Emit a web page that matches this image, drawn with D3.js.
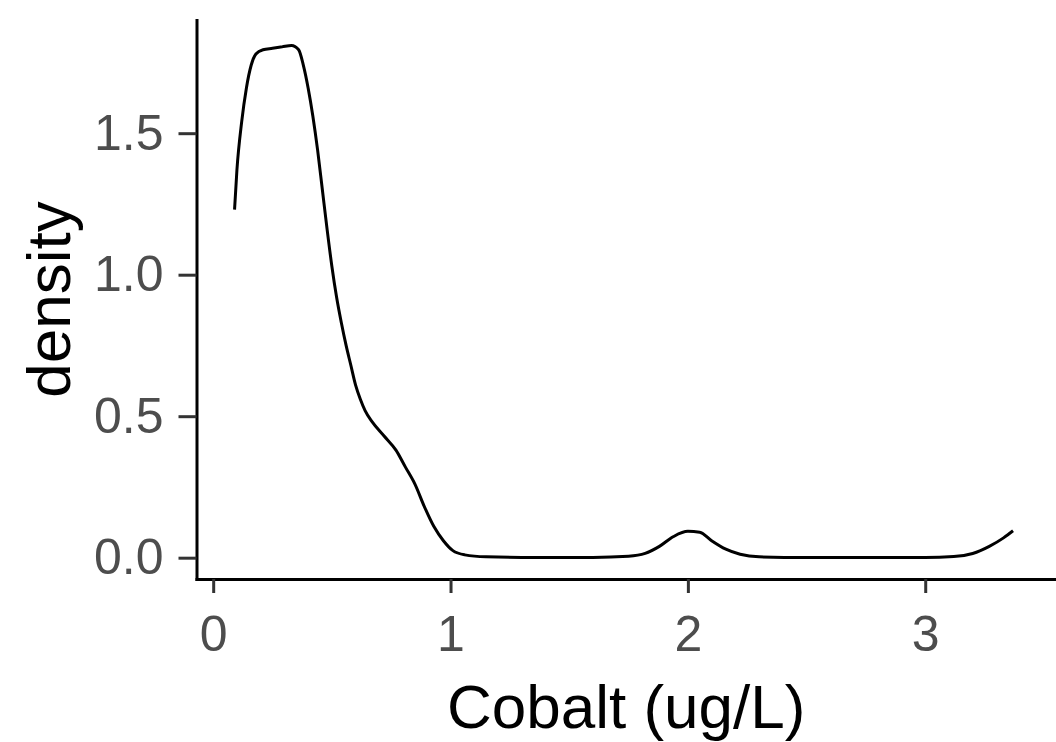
<!DOCTYPE html>
<html>
<head>
<meta charset="utf-8">
<script src="https://cdn.jsdelivr.net/npm/d3@7/dist/d3.min.js"></script>
<style>
  html, body { margin: 0; padding: 0; background: #ffffff; }
  svg { display: block; }
  text { font-family: "Liberation Sans", Arial, Helvetica, sans-serif; }
</style>
</head>
<body>
<script>
// Density estimate of Cobalt (ug/L)
const cobaltX = [0.09, 0.10, 0.12, 0.14, 0.16, 0.18, 0.21, 0.25, 0.29, 0.33, 0.36, 0.38, 0.40, 0.42,
  0.44, 0.46, 0.48, 0.50, 0.52, 0.54, 0.56, 0.58, 0.60, 0.62, 0.64, 0.67, 0.72, 0.77, 0.81, 0.85,
  0.89, 0.93, 0.97, 1.01, 1.06, 1.15, 1.30, 1.60, 1.75, 1.82, 1.88, 1.94, 2.00, 2.05, 2.10, 2.16,
  2.22, 2.30, 2.50, 3.00, 3.12, 3.20, 3.27, 3.33, 3.37];
const densityY = [1.23, 1.37, 1.54, 1.66, 1.74, 1.78, 1.795, 1.80, 1.805, 1.81, 1.795, 1.74, 1.66, 1.56,
  1.44, 1.30, 1.16, 1.03, 0.92, 0.83, 0.75, 0.68, 0.61, 0.56, 0.52, 0.48, 0.43, 0.38, 0.32, 0.26,
  0.18, 0.11, 0.06, 0.025, 0.01, 0.003, 0.001, 0.001, 0.005, 0.015, 0.04, 0.075, 0.093, 0.09, 0.06, 0.03,
  0.012, 0.003, 0.001, 0.001, 0.004, 0.015, 0.04, 0.07, 0.095];
const xTicks = [0, 1, 2, 3];
const yTicks = [0, 0.5, 1.0, 1.5];
const xTitle = "Cobalt (ug/L)";
const yTitle = "density";

const W = 1056, H = 742;
const svg = d3.select("body").append("svg").attr("width", W).attr("height", H);

const pLeft = 196.5, pRight = 1056, pTop = 20, pBottom = 579;
const x = d3.scaleLinear().domain([-0.0703, 3.551]).range([pLeft, pRight]);
const y = d3.scaleLinear().domain([-0.0753, 1.900]).range([pBottom, pTop]);

// curve
const pts = cobaltX.map((v, i) => [v, densityY[i]]);
svg.append("path")
  .datum(pts)
  .attr("fill", "none")
  .attr("stroke", "#000")
  .attr("stroke-width", 3)
  .attr("stroke-linejoin", "round")
  .attr("d", d3.line().x(d => x(d[0])).y(d => y(d[1])).curve(d3.curveMonotoneX));

// axes
const xAxis = d3.axisBottom(x).tickValues(xTicks).tickFormat(d3.format("d"))
  .tickSizeInner(14).tickSizeOuter(0).tickPadding(22);
const gx = svg.append("g").attr("transform", `translate(0,${pBottom})`).call(xAxis);

const yAxis = d3.axisLeft(y).tickValues(yTicks).tickFormat(d3.format(".1f"))
  .tickSizeInner(18).tickSizeOuter(0).tickPadding(15);
const gy = svg.append("g").attr("transform", `translate(${pLeft},0)`).call(yAxis);

[gx, gy].forEach(g => {
  g.select(".domain").attr("stroke", "#000").attr("stroke-width", 3).attr("stroke-linecap", "square");
  g.selectAll(".tick line").attr("stroke", "#333").attr("stroke-width", 3);
  g.selectAll(".tick text").attr("fill", "#4D4D4D").style("font-size", "50px")
    .style("font-family", "'Liberation Sans', Arial, sans-serif");
});
gx.selectAll(".tick text").attr("dy", "0.71em");

// titles
svg.append("text")
  .attr("x", (pLeft + pRight) / 2)
  .attr("y", 728)
  .attr("text-anchor", "middle")
  .attr("fill", "#000")
  .style("font-size", "62px")
  .text(xTitle);

svg.append("text")
  .attr("transform", `translate(70,${(pTop + pBottom) / 2}) rotate(-90)`)
  .attr("text-anchor", "middle")
  .attr("fill", "#000")
  .style("font-size", "62px")
  .text(yTitle);
</script>
</body>
</html>
